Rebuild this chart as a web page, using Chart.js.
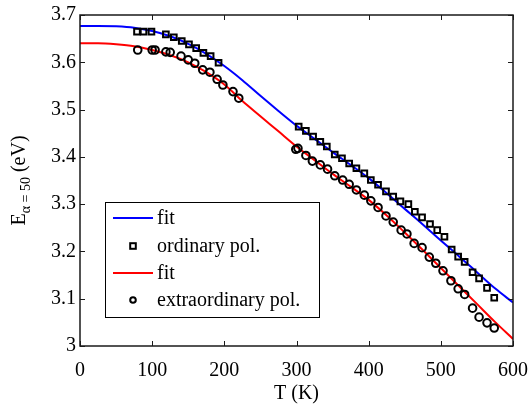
<!DOCTYPE html>
<html>
<head>
<meta charset="utf-8">
<script src="https://cdn.jsdelivr.net/npm/chart.js@4/dist/chart.umd.min.js"></script>
<style>
  html, body { margin: 0; padding: 0; background: #fff; }
  #c { display: block; }
</style>
</head>
<body>
<canvas id="c" width="532" height="405"></canvas>
<script>
// ---- data ----
const fitT   = [0, 25, 50, 75, 100, 125, 150, 175, 200, 225, 250, 275, 300, 325, 350, 375, 400, 425, 450, 475, 500, 525, 550, 575, 600];
const fitOrd = [3.677, 3.677, 3.676, 3.673, 3.666, 3.655, 3.639, 3.618, 3.592, 3.562, 3.529, 3.497, 3.466, 3.438, 3.410, 3.383, 3.355, 3.323, 3.290, 3.257, 3.223, 3.190, 3.156, 3.122, 3.092];
const fitExt = [3.640, 3.640, 3.638, 3.634, 3.626, 3.615, 3.600, 3.579, 3.553, 3.518, 3.486, 3.454, 3.422, 3.393, 3.364, 3.337, 3.309, 3.276, 3.240, 3.203, 3.165, 3.127, 3.089, 3.051, 3.015];

const ordT = [79, 88, 99, 119, 130, 141, 151, 161, 171, 181, 192,
              303, 313, 323, 333, 342, 353, 363, 373, 383, 394, 403, 413, 424, 434, 444, 455, 464, 474, 485, 495, 505, 515, 524, 533, 544, 553, 564, 574];
const ordE = [3.665, 3.665, 3.665, 3.659, 3.653, 3.645, 3.638, 3.630, 3.620, 3.613, 3.599,
              3.464, 3.455, 3.443, 3.432, 3.422, 3.405, 3.397, 3.386, 3.376, 3.365, 3.351, 3.341, 3.327, 3.316, 3.306, 3.300, 3.284, 3.272, 3.258, 3.245, 3.231, 3.204, 3.189, 3.178, 3.156, 3.143, 3.123, 3.102];

const extT = [80, 100, 104, 119, 125, 140, 150, 159, 170, 180, 190, 198, 212, 220,
              299, 302, 313, 322, 333, 343, 353, 364, 373, 383, 394, 403, 413, 424, 434, 445, 453, 463, 474, 484, 493, 503, 514, 524, 533, 544, 553, 564, 574];
const extE = [3.626, 3.626, 3.626, 3.622, 3.621, 3.613, 3.605, 3.598, 3.584, 3.579, 3.564, 3.552, 3.538, 3.524,
              3.416, 3.418, 3.403, 3.391, 3.383, 3.374, 3.360, 3.351, 3.342, 3.330, 3.319, 3.307, 3.293, 3.275, 3.262, 3.245, 3.237, 3.217, 3.208, 3.188, 3.175, 3.159, 3.138, 3.121, 3.109, 3.080, 3.061, 3.049, 3.038];

const xTicks = [0, 100, 200, 300, 400, 500, 600];
const yTicks = [3, 3.1, 3.2, 3.3, 3.4, 3.5, 3.6, 3.7];
const legendLabels = ['fit', 'ordinary pol.', 'fit', 'extraordinary pol.'];

const FONT = "'Liberation Serif', 'Times New Roman', serif";

const pts = (xs, ys) => xs.map((x, i) => ({ x: x, y: ys[i] }));

const frame = {
  id: 'frame',
  afterDraw(chart) {
    const ctx = chart.ctx;
    const a = chart.chartArea;
    const xs = chart.scales.x, ys = chart.scales.y;
    ctx.save();
    // box
    ctx.strokeStyle = '#1a1a1a';
    ctx.lineWidth = 1.5;
    ctx.strokeRect(a.left, a.top, a.right - a.left, a.bottom - a.top);
    // inward ticks
    ctx.lineWidth = 1;
    const tl = 5;
    ctx.beginPath();
    xTicks.forEach(v => {
      const px = Math.round(xs.getPixelForValue(v)) + 0.5;
      ctx.moveTo(px, a.bottom); ctx.lineTo(px, a.bottom - tl);
      ctx.moveTo(px, a.top); ctx.lineTo(px, a.top + tl);
    });
    yTicks.forEach(v => {
      const py = Math.round(ys.getPixelForValue(v)) + 0.5;
      ctx.moveTo(a.left, py); ctx.lineTo(a.left + tl, py);
      ctx.moveTo(a.right, py); ctx.lineTo(a.right - tl, py);
    });
    ctx.stroke();

    // x title
    ctx.fillStyle = '#000';
    ctx.font = '20px ' + FONT;
    ctx.textAlign = 'center';
    ctx.textBaseline = 'alphabetic';
    ctx.fillText('T (K)', (a.left + a.right) / 2, 399);

    // y title with subscript, rotated
    const cy = (a.top + a.bottom) / 2;
    ctx.save();
    ctx.translate(25, cy);
    ctx.rotate(-Math.PI / 2);
    ctx.textAlign = 'left';
    const fBig = '20px ' + FONT, fSmall = '14px ' + FONT;
    ctx.font = fBig; const wE = ctx.measureText('E').width;
    ctx.font = fSmall; const wS = ctx.measureText('\u03B1 = 50').width;
    ctx.font = fBig; const wU = ctx.measureText(' (eV)').width;
    let x0 = -(wE + wS + wU) / 2;
    ctx.font = fBig; ctx.fillText('E', x0, 0); x0 += wE;
    ctx.font = fSmall; ctx.fillText('\u03B1 = 50', x0, 5); x0 += wS;
    ctx.font = fBig; ctx.fillText(' (eV)', x0, 0);
    ctx.restore();

    // legend box
    const lx = 105, ly = 202, lw = 214, lh = 115;
    ctx.fillStyle = '#fff';
    ctx.fillRect(lx, ly, lw, lh);
    ctx.strokeStyle = '#000';
    ctx.lineWidth = 1;
    ctx.strokeRect(lx + 0.5, ly + 0.5, lw, lh);
    const rows = [218, 246, 273, 300];
    chart.data.datasets.forEach((ds, i) => {
      const y = rows[i];
      if (ds.showLine) {
        ctx.strokeStyle = ds.borderColor;
        ctx.lineWidth = 2;
        ctx.beginPath(); ctx.moveTo(113, y); ctx.lineTo(153, y); ctx.stroke();
      } else {
        ctx.strokeStyle = '#000';
        ctx.lineWidth = ds.pointBorderWidth;
        if (ds.pointStyle === 'rect') {
          ctx.strokeRect(133 - 2.8, y - 2.8, 5.6, 5.6);
        } else {
          ctx.beginPath(); ctx.arc(133, y, 2.8, 0, Math.PI * 2); ctx.stroke();
        }
      }
      ctx.fillStyle = '#000';
      ctx.font = '20px ' + FONT;
      ctx.textAlign = 'left';
      ctx.textBaseline = 'middle';
      ctx.fillText(legendLabels[i], 157, y + 1);
    });
    ctx.restore();
  }
};

new Chart(document.getElementById('c'), {
  type: 'scatter',
  data: {
    datasets: [
      { label: legendLabels[0], data: pts(fitT, fitOrd), showLine: true, borderColor: '#0000ff', borderWidth: 2,
        pointRadius: 0, cubicInterpolationMode: 'monotone', order: 4 },
      { label: legendLabels[1], data: pts(ordT, ordE), showLine: false, pointStyle: 'rect', pointRadius: 4,
        pointBorderWidth: 2, borderColor: '#000', backgroundColor: 'rgba(0,0,0,0)', order: 2 },
      { label: legendLabels[2], data: pts(fitT, fitExt), showLine: true, borderColor: '#ff0000', borderWidth: 2,
        pointRadius: 0, cubicInterpolationMode: 'monotone', order: 3 },
      { label: legendLabels[3], data: pts(extT, extE), showLine: false, pointStyle: 'circle', pointRadius: 3.8,
        pointBorderWidth: 2, borderColor: '#000', backgroundColor: 'rgba(0,0,0,0)', order: 1 }
    ]
  },
  options: {
    responsive: false,
    animation: false,
    devicePixelRatio: 1,
    layout: { padding: { top: 15, right: 19, left: 0, bottom: 0 } },
    plugins: { legend: { display: false }, tooltip: { enabled: false } },
    scales: {
      x: {
        type: 'linear', min: 0, max: 600,
        afterBuildTicks: s => { s.ticks = xTicks.map(v => ({ value: v })); },
        afterFit: s => { s.height = 59; s.paddingLeft = 0; s.paddingRight = 0; },
        grid: { display: false, drawTicks: false },
        border: { display: false },
        ticks: { color: '#000', font: { family: FONT, size: 20 }, padding: 13, maxRotation: 0, autoSkip: false }
      },
      y: {
        type: 'linear', min: 3, max: 3.7,
        afterBuildTicks: s => { s.ticks = yTicks.map(v => ({ value: v })); },
        afterFit: s => { s.width = 80; s.paddingTop = 0; s.paddingBottom = 0; },
        grid: { display: false, drawTicks: false },
        border: { display: false },
        ticks: { color: '#000', font: { family: FONT, size: 20 }, padding: 4,
                 callback: v => String(Number(v.toFixed(1))) }
      }
    }
  },
  plugins: [frame]
});
</script>
</body>
</html>
